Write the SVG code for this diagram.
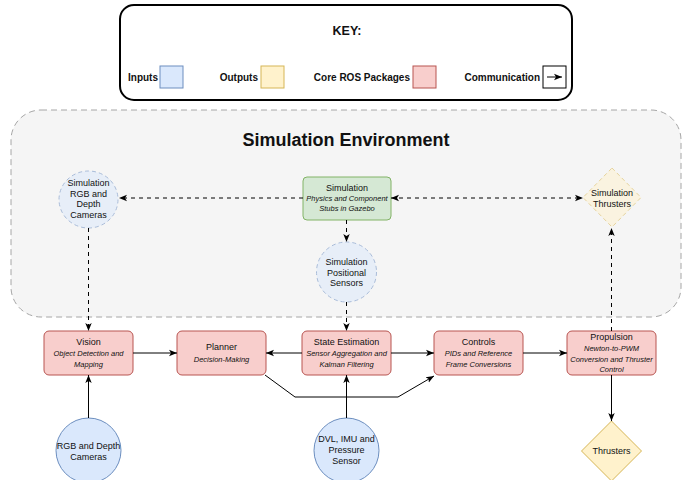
<svg xmlns="http://www.w3.org/2000/svg" width="685" height="480" viewBox="0 0 685 480">
<defs>
<marker id="arr" markerUnits="userSpaceOnUse" markerWidth="9" markerHeight="8" refX="8" refY="4" orient="auto-start-reverse" viewBox="0 0 9 8">
<path d="M0,0.8 L8,4 L0,7.2 L2,4 z" fill="#000"/>
</marker>
</defs>
<style>
text{font-family:"Liberation Sans",Arial,sans-serif;fill:#111;text-anchor:middle}
.t{font-size:9px}
.i{font-size:7.5px;font-style:italic}
.lg{font-size:10px;font-weight:bold;text-anchor:end}
.core{fill:#f8cecc;stroke:#b85450;stroke-width:1}
.inp{fill:#dae8fc;stroke:#6c8ebf;stroke-width:1}
.out{fill:#fff2cc;stroke:#d6b656;stroke-width:1}
.sinp{fill:#e7eef8;stroke:#a9bcd9;stroke-width:1;stroke-dasharray:4 3}
.sout{fill:#faf3e0;stroke:#e6d39c;stroke-width:1;stroke-dasharray:4 3}
.c{fill:none;stroke:#000;stroke-width:1;marker-end:url(#arr)}
.d{stroke-dasharray:4 4}
</style>
<g id="key">
<rect x="120" y="5" width="452" height="95" rx="14" fill="#fff" stroke="#000" stroke-width="2"/>
<text x="347" y="35" style="font-size:12.5px;font-weight:bold">KEY:</text>
<text class="lg" x="158" y="81">Inputs</text>
<rect class="inp" x="160" y="66" width="23" height="22"/>
<text class="lg" x="258" y="81">Outputs</text>
<rect class="out" x="261" y="66" width="23" height="22"/>
<text class="lg" x="410" y="81">Core ROS Packages</text>
<rect class="core" x="413" y="66" width="23" height="22"/>
<text class="lg" x="540" y="81">Communication</text>
<rect x="543" y="66" width="23" height="22" fill="#fff" stroke="#000" stroke-width="1"/>
<line x1="547" y1="77" x2="562" y2="77" class="c"/>
</g>
<g id="sim-env">
<rect x="11" y="110" width="670" height="207" rx="30" fill="#f5f5f5" stroke="#a6a6a6" stroke-width="1" stroke-dasharray="6 4"/>
<text x="346" y="146" style="font-size:18px;font-weight:bold">Simulation Environment</text>
</g>
<g id="sim-cameras">
<ellipse class="sinp" cx="88.5" cy="199.5" rx="29.5" ry="28.5"/>
<text class="t" x="88.5" y="186">Simulation</text>
<text class="t" x="88.5" y="196.5">RGB and</text>
<text class="t" x="88.5" y="207">Depth</text>
<text class="t" x="88.5" y="217.5">Cameras</text>
</g>
<g id="simulation">
<rect x="303" y="177" width="88" height="43" rx="4" fill="#d5e8d4" stroke="#82b366" stroke-width="1"/>
<text class="t" x="347" y="191">Simulation</text>
<text class="i" x="347" y="201">Physics and Component</text>
<text class="i" x="347" y="211">Stubs in Gazebo</text>
</g>
<g id="sim-thrusters">
<polygon class="sout" points="612,168 641,197.5 612,227 583,197.5"/>
<text class="t" x="612" y="196">Simulation</text>
<text class="t" x="612" y="207">Thrusters</text>
</g>
<g id="sim-positional">
<circle class="sinp" cx="346.5" cy="272" r="30"/>
<text class="t" x="346.5" y="265">Simulation</text>
<text class="t" x="346.5" y="275.5">Positional</text>
<text class="t" x="346.5" y="286">Sensors</text>
</g>
<g id="vision">
<rect class="core" x="44" y="331" width="89" height="44" rx="5"/>
<text class="t" x="88.5" y="345">Vision</text>
<text class="i" x="88.5" y="356">Object Detection and</text>
<text class="i" x="88.5" y="367">Mapping</text>
</g>
<g id="planner">
<rect class="core" x="177" y="331" width="89" height="44" rx="5"/>
<text class="t" x="221.5" y="350">Planner</text>
<text class="i" x="221.5" y="362">Decision-Making</text>
</g>
<g id="state-estimation">
<rect class="core" x="302" y="331" width="89" height="44" rx="5"/>
<text class="t" x="346.5" y="345">State Estimation</text>
<text class="i" x="346.5" y="356">Sensor Aggregation and</text>
<text class="i" x="346.5" y="367">Kalman Filtering</text>
</g>
<g id="controls">
<rect class="core" x="434" y="331" width="89" height="44" rx="5"/>
<text class="t" x="478.5" y="345">Controls</text>
<text class="i" x="478.5" y="356">PIDs and Reference</text>
<text class="i" x="478.5" y="367">Frame Conversions</text>
</g>
<g id="propulsion">
<rect class="core" x="567" y="331" width="89" height="44" rx="5"/>
<text class="t" x="611.5" y="340">Propulsion</text>
<text class="i" x="611.5" y="351">Newton-to-PWM</text>
<text class="i" x="611.5" y="362">Conversion and Thruster</text>
<text class="i" x="611.5" y="372">Control</text>
</g>
<g id="rgb-cameras">
<circle class="inp" cx="88.5" cy="450.5" r="32.5"/>
<text class="t" x="88.5" y="449">RGB and Depth</text>
<text class="t" x="88.5" y="460">Cameras</text>
</g>
<g id="dvl-imu">
<circle class="inp" cx="346.5" cy="450.5" r="32.5"/>
<text class="t" x="346.5" y="442">DVL, IMU and</text>
<text class="t" x="346.5" y="453">Pressure</text>
<text class="t" x="346.5" y="464">Sensor</text>
</g>
<g id="thrusters">
<polygon class="out" points="611.5,421 641.5,451 611.5,481 581.5,451"/>
<text class="t" x="611.5" y="454">Thrusters</text>
</g>
<g id="connectors">
<line class="c d" x1="303" y1="198" x2="119" y2="198"/>
<line class="c d" x1="391" y1="198" x2="583" y2="198" style="marker-start:url(#arr)"/>
<line class="c d" x1="346.5" y1="220" x2="346.5" y2="242"/>
<line class="c d" x1="88.5" y1="228" x2="88.5" y2="331"/>
<line class="c d" x1="346.5" y1="302" x2="346.5" y2="331"/>
<line class="c d" x1="611.5" y1="331" x2="611.5" y2="228"/>
<line class="c" x1="133" y1="353" x2="177" y2="353"/>
<line class="c" x1="302" y1="353" x2="266" y2="353"/>
<line class="c" x1="391" y1="353" x2="434" y2="353"/>
<line class="c" x1="523" y1="353" x2="567" y2="353"/>
<polyline class="c" points="265,375 295,397 398,397 434,376"/>
<line class="c" x1="88.5" y1="418" x2="88.5" y2="375"/>
<line class="c" x1="346.5" y1="418" x2="346.5" y2="375"/>
<line class="c" x1="611.5" y1="375" x2="611.5" y2="421"/>
</g>
</svg>
